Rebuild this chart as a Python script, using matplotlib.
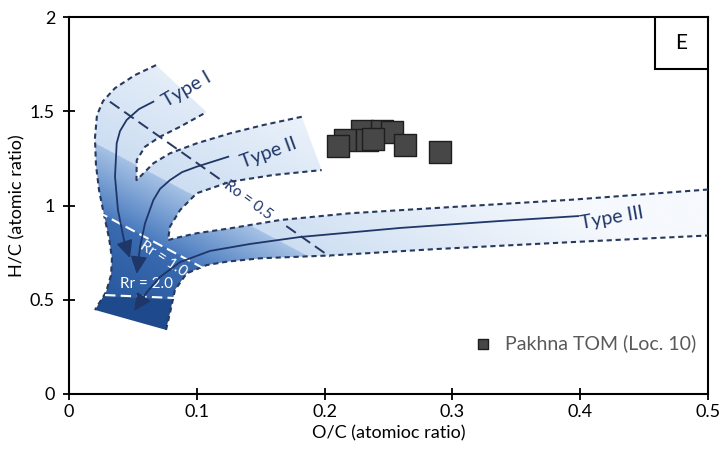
import matplotlib
matplotlib.use("Agg")
import matplotlib.pyplot as plt
import numpy as np
from matplotlib.patches import Polygon, Rectangle

plt.rcParams['font.family'] = ['Lato', 'DejaVu Sans']

# Pakhna TOM samples (O/C, H/C)
tom_oc = [0.229, 0.245, 0.253, 0.216, 0.233, 0.2105, 0.238, 0.263, 0.2905]
tom_hc = [1.395, 1.397, 1.392, 1.347, 1.349, 1.316, 1.353, 1.319, 1.284]
legend_label = 'Pakhna TOM (Loc. 10)'

# kerogen evolution paths
type1_x = [0.0660, 0.0548, 0.0451, 0.0399, 0.0373, 0.0360, 0.0383, 0.0430, 0.0477]
type1_y = [1.551, 1.512, 1.454, 1.395, 1.330, 1.153, 0.976, 0.817, 0.721]
type2_x = [0.1246, 0.0999, 0.0884, 0.0790, 0.0712, 0.0660, 0.0595, 0.0556, 0.0530]
type2_y = [1.259, 1.206, 1.177, 1.135, 1.088, 1.029, 0.906, 0.781, 0.637]
type3_x = [0.3983, 0.3372, 0.2590, 0.1808, 0.1416, 0.1103, 0.0869, 0.0712, 0.0610, 0.0509]
type3_y = [0.944, 0.918, 0.881, 0.833, 0.796, 0.759, 0.700, 0.621, 0.541, 0.440]

# envelope boundaries (dashed)
outer_x = [0.0681, 0.0516, 0.0360, 0.0266, 0.0219, 0.0203, 0.0211, 0.0235, 0.0274,
           0.0313, 0.0336, 0.0329, 0.0290, 0.0203]
outer_y = [1.745, 1.692, 1.623, 1.554, 1.480, 1.358, 1.215, 1.082, 0.950,
           0.828, 0.721, 0.631, 0.541, 0.446]
lower_x = [0.0759, 0.0790, 0.0829, 0.0921, 0.1077, 0.1234, 0.1495, 0.2042, 0.2872, 0.3936, 0.5]
lower_y = [0.340, 0.430, 0.552, 0.640, 0.684, 0.702, 0.720, 0.735, 0.769, 0.806, 0.841]
mid_x = [0.5, 0.3936, 0.2872, 0.2199, 0.1651, 0.1260, 0.0999, 0.0869, 0.0775,
         0.0790, 0.0869, 0.0999, 0.1260, 0.1599, 0.1977]
mid_y = [1.085, 1.031, 0.987, 0.959, 0.923, 0.879, 0.853, 0.833, 0.817,
         0.888, 0.976, 1.065, 1.126, 1.162, 1.188]
upper_x = [0.1821, 0.1520, 0.1260, 0.0999, 0.0790, 0.0660, 0.0556, 0.0528,
           0.0530, 0.0595, 0.0712, 0.0869, 0.1077]
upper_y = [1.471, 1.427, 1.383, 1.330, 1.277, 1.224, 1.153, 1.135,
           1.241, 1.312, 1.365, 1.418, 1.496]

# maturity lines
ro_x = [0.032, 0.122, 0.170, 0.204]
ro_y = [1.551, 1.121, 0.891, 0.729]
rr1_x = [0.0227, 0.1064]
rr1_y = [0.966, 0.663]
rr2_x = [0.0282, 0.0837]
rr2_y = [0.525, 0.509]

navy = '#1f3668'
dash_c = '#27395f'

fig = plt.figure(figsize=(7.24, 4.49), dpi=100)
ax = fig.add_axes([0.0953, 0.1225, 0.978 - 0.0953, 0.962 - 0.1225])
ax.set_xlim(0, 0.5)
ax.set_ylim(0, 2)

# shaded envelope: gradient clipped to the outline
env = Polygon(np.column_stack([outer_x + lower_x + mid_x + upper_x,
                               outer_y + lower_y + mid_y + upper_y]),
              closed=True, facecolor='none', edgecolor='none')
ax.add_patch(env)

gx, gy = np.meshgrid(np.linspace(0, 0.5, 700), np.linspace(0, 2, 900))
t = 0.469 * gx * 1278 + 0.883 * gy * 188.5
def ramp(v, v0, v1, c0, c1):
    f = np.clip((v - v0) / (v1 - v0), 0, 1)[..., None]
    return (1 - f) * np.array(c0) + f * np.array(c1)
hx = lambda h: [int(h[i:i + 2], 16) / 255 for i in (1, 3, 5)]
img = ramp(t, 233.6, 400, hx('#cddef2'), hx('#f6f9fd'))
med = ramp(t, 174.2, 233.6, hx('#4a7bbf'), hx('#a6c2e5'))
drk = ramp(t, 110, 174.2, hx('#2a5a9f'), hx('#3b6bb0'))
img = np.where((t < 233.6)[..., None], med, img)
img = np.where((t < 174.2)[..., None], drk, img)
below2 = gy < np.interp(gx, rr2_x, rr2_y) - 0.01
img = np.where(below2[..., None], np.array(hx('#1e4a8c')), img)
im = ax.imshow(img, origin='lower', extent=(0, 0.5, 0, 2), aspect='auto',
               interpolation='bilinear', zorder=1)
im.set_clip_path(env)

dash = dict(color=dash_c, lw=1.5, linestyle=(0, (2.5, 1.8)), zorder=3)
ax.plot(outer_x, outer_y, **dash)
ax.plot(lower_x, lower_y, **dash)
ax.plot(mid_x, mid_y, **dash)
ax.plot(upper_x, upper_y, **dash)

# Ro line with a gap for its label
ax.plot(ro_x[:2], ro_y[:2], color=dash_c, lw=1.4, linestyle=(0, (6, 3)), zorder=3)
ax.plot(ro_x[2:], ro_y[2:], color=dash_c, lw=1.4, linestyle=(0, (6, 3)), zorder=3)
ax.text(0.140, 1.03, 'Ro = 0.5', rotation=-36, color=navy, fontsize=11,
        ha='center', va='center', rotation_mode='anchor', zorder=4)

ax.plot(rr1_x, rr1_y, color='white', lw=1.5, linestyle=(0, (5, 2.5)), zorder=4)
ax.plot(rr2_x, rr2_y, color='white', lw=1.5, linestyle=(0, (5, 2.5)), zorder=4)
ax.text(0.0735, 0.718, 'Rr = 1.0', rotation=-33, color='white', fontsize=11,
        ha='center', va='center', rotation_mode='anchor', zorder=4)
ax.text(0.0610, 0.582, 'Rr = 2.0', color='white', fontsize=11,
        ha='center', va='center', zorder=4)

for xs, ys in [(type1_x, type1_y), (type2_x, type2_y), (type3_x, type3_y)]:
    ax.plot(xs[:-1], ys[:-1], color=navy, lw=1.3, zorder=4)
    ax.annotate('', xy=(xs[-1], ys[-1]), xytext=(xs[-2], ys[-2]),
                arrowprops=dict(arrowstyle='-|>,head_length=0.7,head_width=0.33',
                                color=navy, lw=1.3, mutation_scale=15,
                                shrinkA=0, shrinkB=0), zorder=5)

ax.text(0.092, 1.618, 'Type I', rotation=30, color=navy, fontsize=14,
        ha='center', va='center', rotation_mode='anchor', zorder=4)
ax.text(0.156, 1.28, 'Type II', rotation=20, color=navy, fontsize=14,
        ha='center', va='center', rotation_mode='anchor', zorder=4)
ax.text(0.4249, 0.934, 'Type III', rotation=10, color=navy, fontsize=14,
        ha='center', va='center', rotation_mode='anchor', zorder=4)

ax.scatter(tom_oc, tom_hc, s=250, marker='s', facecolor='#474747',
           edgecolor='#1e1e1e', linewidth=1.0, zorder=6, label=legend_label)
leg = ax.legend(loc='lower right', bbox_to_anchor=(1.0, 0.08), frameon=False,
                markerscale=0.5, handletextpad=0.15, fontsize=14, borderaxespad=0.2)
for txt in leg.get_texts():
    txt.set_color('#595959')

# panel letter
ax.add_patch(Rectangle((0.917, 0.862), 0.083, 0.138, transform=ax.transAxes,
                       facecolor='white', edgecolor='black', lw=1.5, zorder=7))
ax.text(0.9585, 0.931, 'E', transform=ax.transAxes, fontsize=15,
        ha='center', va='center', zorder=8)

ax.set_xticks([0, 0.1, 0.2, 0.3, 0.4, 0.5])
ax.set_xticklabels(['0', '0.1', '0.2', '0.3', '0.4', '0.5'])
ax.set_yticks([0, 0.5, 1, 1.5, 2])
ax.set_yticklabels(['0', '0.5', '1', '1.5', '2'])
ax.tick_params(direction='inout', length=8, width=1.3, labelsize=13)
ax.tick_params(axis='x', pad=3)
ax.tick_params(axis='y', pad=6)
for s in ax.spines.values():
    s.set_linewidth(1.5)
ax.set_xlabel('O/C (atomioc ratio)', fontsize=13, labelpad=4)
ax.set_ylabel('H/C (atomic ratio)', fontsize=13, labelpad=3)

fig.savefig('out.png', dpi=100)
